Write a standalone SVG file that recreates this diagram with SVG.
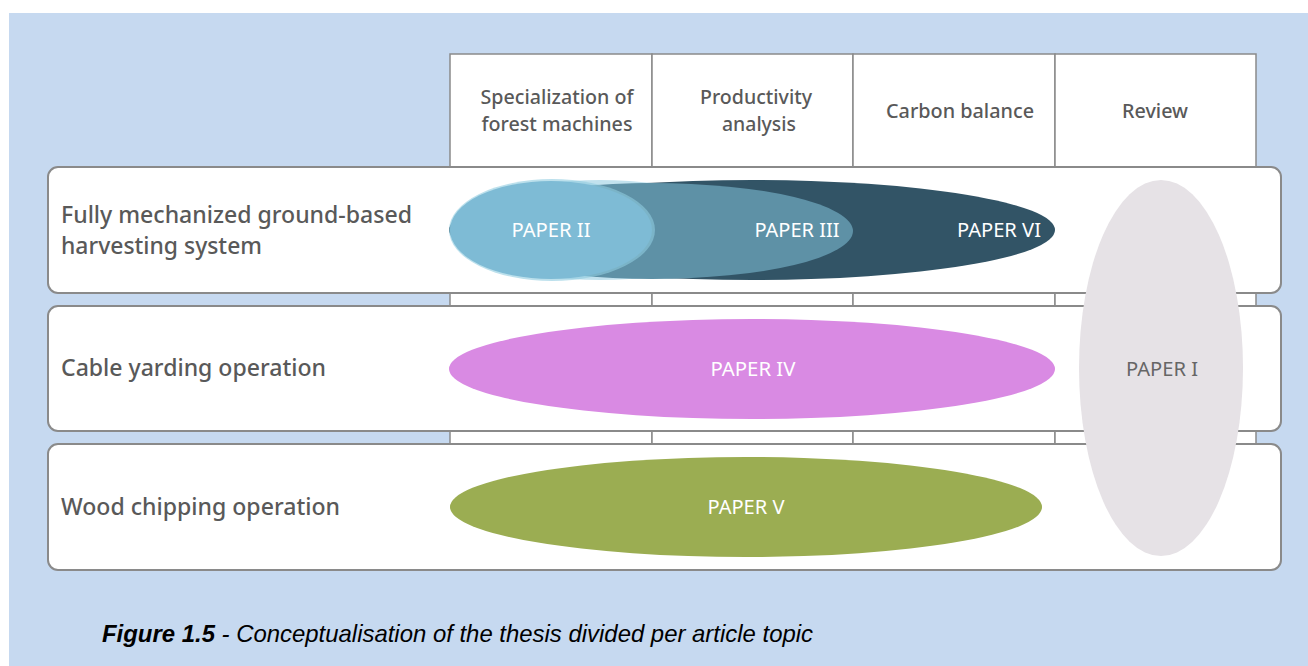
<svg xmlns="http://www.w3.org/2000/svg" width="1308" height="666" viewBox="0 0 1308 666">
  <style>
    .bg { fill: #c6d9f0; }
    .cell { fill: #ffffff; stroke: #8a8a8a; stroke-width: 1.5; }
    .row { fill: #ffffff; stroke: #8a8a8a; stroke-width: 2; }
    .head { font-family: "Noto Sans", "Open Sans", sans-serif; font-size: 20px; font-weight: 500; fill: #595959; text-anchor: middle; }
    .lbl { font-family: "Noto Sans", "Open Sans", sans-serif; font-size: 24px; font-weight: 500; fill: #595959; }
    .paper { font-family: "Noto Sans", "Open Sans", sans-serif; font-size: 19px; fill: #ffffff; text-anchor: middle; }
    .cap { font-family: "Liberation Sans", Arial, sans-serif; font-size: 24px; font-style: italic; fill: #000000; }
  </style>

  <!-- page background -->
  <rect class="bg" x="9" y="13" width="1299" height="653"/>

  <!-- topic columns: header cells continuing behind the rows -->
  <g id="columns">
    <rect class="cell" x="450" y="54" width="202" height="510"/>
    <rect class="cell" x="652" y="54" width="201" height="510"/>
    <rect class="cell" x="853" y="54" width="202" height="510"/>
    <rect class="cell" x="1055" y="54" width="201" height="510"/>
    <text class="head" x="557" y="104" textLength="153" lengthAdjust="spacingAndGlyphs">Specialization of</text>
    <text class="head" x="557" y="131" textLength="151" lengthAdjust="spacingAndGlyphs">forest machines</text>
    <text class="head" x="756" y="104" textLength="112" lengthAdjust="spacingAndGlyphs">Productivity</text>
    <text class="head" x="759" y="131" textLength="74" lengthAdjust="spacingAndGlyphs">analysis</text>
    <text class="head" x="960" y="118" textLength="148" lengthAdjust="spacingAndGlyphs">Carbon balance</text>
    <text class="head" x="1155" y="118" textLength="66" lengthAdjust="spacingAndGlyphs">Review</text>
  </g>

  <!-- system rows -->
  <g id="row-ground-based">
    <rect class="row" x="48" y="167" width="1233" height="126" rx="10"/>
    <text class="lbl" x="61" y="223" textLength="351" lengthAdjust="spacingAndGlyphs">Fully mechanized ground-based</text>
    <text class="lbl" x="61" y="254" textLength="201" lengthAdjust="spacingAndGlyphs">harvesting system</text>
  </g>
  <g id="row-cable-yarding">
    <rect class="row" x="48" y="306" width="1233" height="125" rx="10"/>
    <text class="lbl" x="61" y="376" textLength="265" lengthAdjust="spacingAndGlyphs">Cable yarding operation</text>
  </g>
  <g id="row-wood-chipping">
    <rect class="row" x="48" y="444" width="1233" height="126" rx="10"/>
    <text class="lbl" x="61" y="515" textLength="279" lengthAdjust="spacingAndGlyphs">Wood chipping operation</text>
  </g>

  <!-- papers -->
  <g id="paper-vi">
    <ellipse cx="752" cy="230" rx="303" ry="50" fill="#325466"/>
    <text class="paper" x="999" y="237" textLength="84" lengthAdjust="spacingAndGlyphs">PAPER VI</text>
  </g>
  <g id="paper-iii">
    <ellipse cx="600" cy="230" rx="150" ry="50" fill="#8fcbe0" opacity="0.55"/>
    <ellipse cx="652" cy="231" rx="201" ry="48" fill="#5e91a6"/>
    <text class="paper" x="797" y="237" textLength="85" lengthAdjust="spacingAndGlyphs">PAPER III</text>
  </g>
  <g id="paper-ii">
    <ellipse cx="552" cy="230" rx="103" ry="51" fill="#8fcbe0" opacity="0.6"/>
    <ellipse cx="551" cy="230" rx="101" ry="49" fill="#7ebbd5"/>
    <text class="paper" x="551" y="237" textLength="79" lengthAdjust="spacingAndGlyphs">PAPER II</text>
  </g>
  <g id="paper-iv">
    <ellipse cx="752" cy="369" rx="303" ry="50" fill="#d98ae3"/>
    <text class="paper" x="753" y="376" textLength="85" lengthAdjust="spacingAndGlyphs">PAPER IV</text>
  </g>
  <g id="paper-v">
    <ellipse cx="746" cy="507" rx="296" ry="50" fill="#9bad52"/>
    <text class="paper" x="746" y="514" textLength="77" lengthAdjust="spacingAndGlyphs">PAPER V</text>
  </g>
  <g id="paper-i">
    <ellipse cx="1161" cy="368" rx="82" ry="188" fill="#e6e2e6"/>
    <text class="paper" x="1162" y="376" textLength="72" lengthAdjust="spacingAndGlyphs" style="fill:#666666">PAPER I</text>
  </g>

  <!-- connectors: none in this figure -->
  <g id="connectors"/>

  <!-- caption -->
  <text class="cap" x="102" y="642" textLength="711" lengthAdjust="spacingAndGlyphs"><tspan font-weight="bold">Figure 1.5</tspan> - Conceptualisation of the thesis divided per article topic</text>
</svg>
